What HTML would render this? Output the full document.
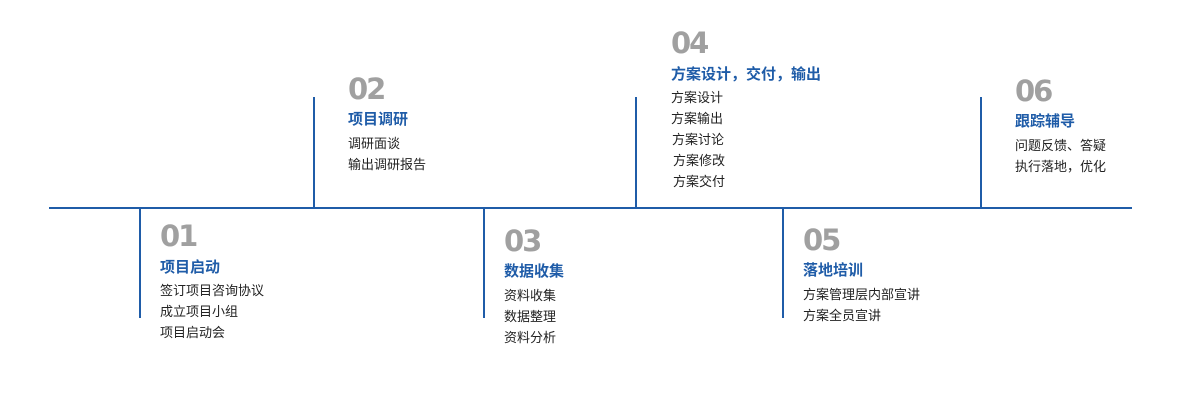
<!DOCTYPE html>
<html><head><meta charset="utf-8">
<style>
body{margin:0;width:1200px;height:400px;background:#fff;position:relative;overflow:hidden;font-family:"Liberation Sans","Noto Sans CJK SC",sans-serif;}
.l{position:absolute;background:#1f5ca8;}
.t{position:absolute;white-space:nowrap;}
.n{font-family:"DejaVu Sans",sans-serif;font-size:29px;font-weight:bold;color:#a0a0a0;line-height:30px;letter-spacing:-2px;}
.h{font-size:15px;font-weight:bold;color:#1f5ca8;line-height:20px;}
.i{font-size:13px;color:#222;line-height:21px;}
</style></head><body>
<div class="l" style="left:49px;top:207px;width:1083px;height:2px"></div>
<div class="l" style="left:139px;top:208px;width:2px;height:110px"></div>
<div class="l" style="left:313px;top:97px;width:2px;height:111px"></div>
<div class="l" style="left:483px;top:208px;width:2px;height:110px"></div>
<div class="l" style="left:635px;top:97px;width:2px;height:111px"></div>
<div class="l" style="left:782px;top:208px;width:2px;height:110px"></div>
<div class="l" style="left:980px;top:97px;width:2px;height:111px"></div>

<div class="t n" style="left:160px;top:221px">01</div>
<div class="t h" style="left:160px;top:258px">项目启动</div>
<div class="t i" style="left:160px;top:280px">签订项目咨询协议<br>成立项目小组<br>项目启动会</div>

<div class="t n" style="left:348px;top:74px">02</div>
<div class="t h" style="left:348px;top:110px">项目调研</div>
<div class="t i" style="left:348px;top:133px">调研面谈<br>输出调研报告</div>

<div class="t n" style="left:504px;top:226px">03</div>
<div class="t h" style="left:504px;top:262px">数据收集</div>
<div class="t i" style="left:504px;top:285px">资料收集<br>数据整理<br>资料分析</div>

<div class="t n" style="left:671px;top:28px">04</div>
<div class="t h" style="left:671px;top:65px">方案设计，交付，输出</div>
<div class="t i" style="left:671px;top:87px">方案设计<br>方案输出<br><span style="margin-left:1px">方案讨论</span><br><span style="margin-left:2px">方案修改</span><br><span style="margin-left:2px">方案交付</span></div>

<div class="t n" style="left:803px;top:225px">05</div>
<div class="t h" style="left:803px;top:261px">落地培训</div>
<div class="t i" style="left:803px;top:284px">方案管理层内部宣讲<br>方案全员宣讲</div>

<div class="t n" style="left:1015px;top:76px">06</div>
<div class="t h" style="left:1015px;top:112px">跟踪辅导</div>
<div class="t i" style="left:1015px;top:135px">问题反馈、答疑<br>执行落地，优化</div>
</body></html>
